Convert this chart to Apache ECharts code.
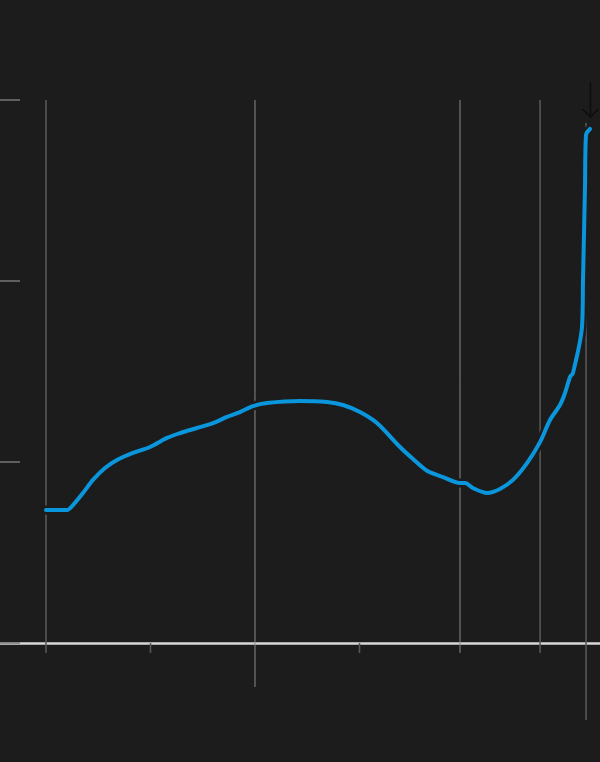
<!DOCTYPE html>
<html>
<head>
<meta charset="utf-8">
<script src="https://cdn.jsdelivr.net/npm/echarts@6/dist/echarts.min.js"></script>
<style>
html,body{margin:0;padding:0;background:#1c1c1c;}
#chart{width:600px;height:762px;}
</style>
</head>
<body>
<div id="chart"></div>
<script>
// Data (x: time index, y: value)
const xValues = [0, 10.05, 12.92, 17.70, 22.49, 28.23, 33.97, 41.63, 49.76, 57.89, 64.11, 72.25, 79.90, 86.60, 92.82, 99.04, 105.74, 121.53, 134.45, 142.11, 150.24, 158.37, 169.38, 175.60, 182.30, 189.95, 198.09, 200.48, 204.31, 211.00, 217.22, 223.44, 230.14, 236.36, 241.15, 245.93, 248.33, 250.72, 252.15, 256.46, 256.94, 257.89, 258.37, 260.29];
const yValues = [0.735, 0.735, 0.762, 0.829, 0.901, 0.967, 1.011, 1.050, 1.083, 1.133, 1.160, 1.188, 1.215, 1.249, 1.276, 1.309, 1.326, 1.337, 1.331, 1.315, 1.276, 1.215, 1.083, 1.017, 0.952, 0.917, 0.884, 0.884, 0.856, 0.829, 0.851, 0.901, 0.994, 1.110, 1.232, 1.315, 1.381, 1.470, 1.492, 1.746, 2.006, 2.519, 2.807, 2.840];

// x tick positions and which carry full gridlines
const xTicks = [0, 50, 100, 150, 198.1, 236.4, 258.4];
const gridTop = [3, 0, 3, 0, 3, 3, 2.873];
const gridBottom = [-0.055, -0.055, -0.243, -0.055, -0.055, -0.055, -0.425];
const gridKind = ['dark', 'tick', 'light', 'tick', 'light', 'dark', 'dark'];

const yTicks = [0, 1, 2, 3];

// annotation arrow (x, yTop, yTip)
const arrow = [260.5, 3.099, 2.906];

const lineData = xValues.map((x, i) => [x, yValues[i]]);
const gridData = xTicks.map((x, i) => [x, gridTop[i], gridBottom[i], i]);

const chart = echarts.init(document.getElementById('chart'), null, {renderer: 'canvas'});
chart.setOption({
  backgroundColor: '#1c1c1c',
  animation: false,
  grid: {left: 0, right: 0, top: 100, bottom: 119, containLabel: false},
  xAxis: {
    type: 'value', min: -22, max: 265.07,
    axisLine: {show: true, onZero: false, lineStyle: {color: '#d8d8d8', width: 2.5}},
    axisTick: {show: false}, axisLabel: {show: false}, splitLine: {show: false}
  },
  yAxis: {
    type: 'value', min: yTicks[0], max: yTicks[yTicks.length - 1], interval: 1,
    axisLine: {show: false, onZero: false},
    axisTick: {show: true, inside: true, length: 20, lineStyle: {color: '#777', width: 1.5}},
    axisLabel: {show: false}, splitLine: {show: false}
  },
  series: [
    {
      type: 'custom', z: 1, silent: true, clip: false,
      data: gridData,
      encode: {x: 0, y: 1},
      renderItem: function (params, api) {
        const x = api.value(0);
        const p1 = api.coord([x, api.value(1)]);
        const p2 = api.coord([x, api.value(2)]);
        const kind = gridKind[api.value(3)];
        const color = kind === 'light' ? '#8a8a8a' : '#575757';
        const w = kind === 'light' ? 1 : 1.6;
        return {type: 'line', shape: {x1: p1[0], y1: p1[1], x2: p2[0], y2: p2[1]},
                style: {stroke: color, lineWidth: w}};
      }
    },
    {
      type: 'line', z: 2, data: lineData, showSymbol: false, symbol: 'none',
      smooth: 0.3, silent: true,
      lineStyle: {color: '#1c1c1c', width: 9, cap: 'round', join: 'round'}
    },
    {
      type: 'line', z: 3, data: lineData, showSymbol: false, symbol: 'none',
      smooth: 0.3, silent: true,
      lineStyle: {color: '#0a96dc', width: 4, cap: 'round', join: 'round'}
    },
    {
      type: 'custom', z: 4, silent: true, clip: false,
      data: [arrow],
      renderItem: function (params, api) {
        const top = api.coord([api.value(0), api.value(1)]);
        const tip = api.coord([api.value(0), api.value(2)]);
        return {type: 'group', children: [
          {type: 'line', shape: {x1: top[0], y1: top[1], x2: tip[0], y2: tip[1]},
           style: {stroke: '#0d0d0d', lineWidth: 1.5}},
          {type: 'polyline', shape: {points: [[tip[0] - 8, tip[1] - 8], [tip[0], tip[1]], [tip[0] + 8, tip[1] - 8]]},
           style: {stroke: '#0d0d0d', lineWidth: 1.5, fill: null}}
        ]};
      }
    }
  ]
});
</script>
</body>
</html>
